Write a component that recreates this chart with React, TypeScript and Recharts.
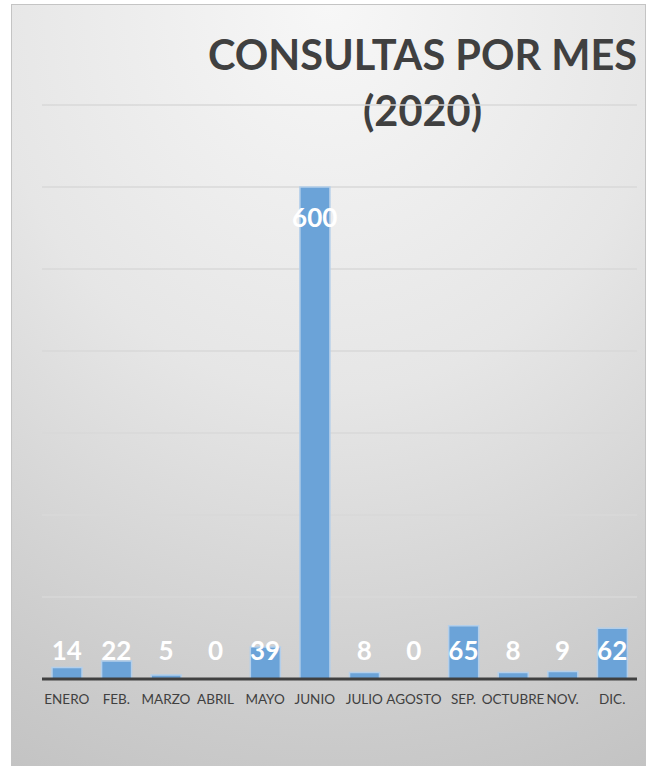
import { Bar, CartesianGrid, ComposedChart, Line, XAxis, YAxis } from "recharts";

const months = ["ENERO", "FEB.", "MARZO", "ABRIL", "MAYO", "JUNIO", "JULIO", "AGOSTO", "SEP.", "OCTUBRE", "NOV.", "DIC."];
const consultas = [14, 22, 5, 0, 39, 600, 8, 0, 65, 8, 9, 62];
const yTicks = [0, 100, 200, 300, 400, 500, 600, 700];

const data = months.map((mes, i) => ({ mes, consultas: consultas[i] }));

const FONT = "Lato, 'Open Sans', sans-serif";

// Excel-style "inside end" label, kept above the axis for short bars
function ValueLabel(props: any) {
  const { x, y, value } = props;
  const cy = Math.min(y + 30, 650);
  return (
    <text
      x={x}
      y={cy}
      textAnchor="middle"
      dominantBaseline="central"
      fill="#ffffff"
      fontSize={26}
      fontWeight={700}
      fontFamily={FONT}
    >
      {value}
    </text>
  );
}

export default function App() {
  return (
    <div style={{ position: "absolute", left: 0, top: 0, width: 648, height: 766, overflow: "hidden", background: "#fff" }}>
      <div
        style={{
          position: "absolute",
          left: 11,
          top: 4,
          width: 633,
          height: 780,
          border: "1px solid #c4c4c4",
          background: "radial-gradient(ellipse 120% 110% at 50% 0%, #f7f7f7 0%, #e6e6e6 45%, #cbcbcb 85%, #c2c2c2 100%)",
        }}
      />
      <div
        style={{
          position: "absolute",
          left: 200,
          width: 445,
          top: 26,
          textAlign: "center",
          fontFamily: FONT,
          fontWeight: 700,
          fontSize: 41.5,
          lineHeight: "56px",
          color: "#404040",
        }}
      >
        CONSULTAS POR MES
        <br />
        (2020)
      </div>
      <div style={{ position: "absolute", left: 0, top: 0 }}>
        <ComposedChart width={648} height={766} data={data} margin={{ top: 105, right: 11, bottom: 57, left: 42 }}>
          <CartesianGrid vertical={false} stroke="#d9d9d9" strokeWidth={1.5} />
          <YAxis hide domain={[0, 700]} ticks={yTicks} />
          <XAxis
            dataKey="mes"
            height={30}
            axisLine={{ stroke: "#404040", strokeWidth: 3 }}
            tickLine={false}
            interval={0}
            tick={{ fill: "#404040", fontSize: 13.5, fontFamily: FONT }}
            tickMargin={9}
          />
          <Bar
            dataKey="consultas"
            barSize={30}
            fill="#6ba3d8"
            stroke="#b4cfea"
            strokeWidth={1.5}
            isAnimationActive={false}
          />
          <Line
            dataKey="consultas"
            stroke="none"
            dot={false}
            activeDot={false}
            isAnimationActive={false}
            label={<ValueLabel />}
          />
        </ComposedChart>
      </div>
    </div>
  );
}
